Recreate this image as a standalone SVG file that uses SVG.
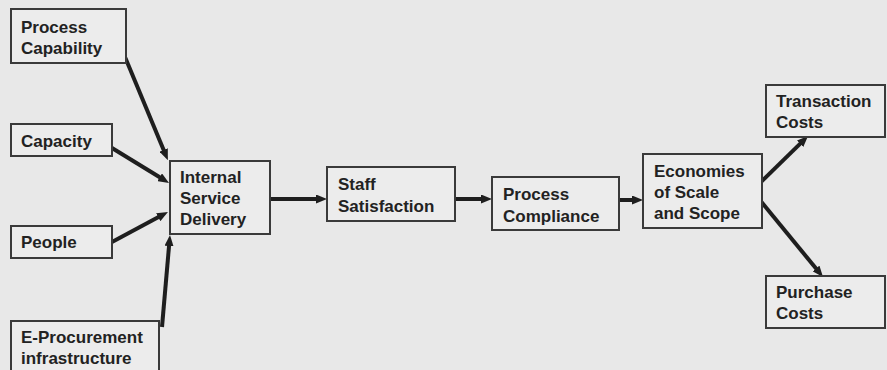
<svg xmlns="http://www.w3.org/2000/svg" width="887" height="370" viewBox="0 0 887 370">
<style>
.box{fill:#ececec;stroke:#3a3a3a;stroke-width:2}
.t{font-family:"Liberation Sans",Arial,sans-serif;font-weight:bold;font-size:17px;fill:#222}
.c{stroke:#1e1e1e;stroke-width:4;fill:none;marker-end:url(#ah)}
</style>
<defs>
<marker id="ah" markerUnits="userSpaceOnUse" markerWidth="11" markerHeight="9" refX="3" refY="4.5" orient="auto">
<path d="M0,0 L11,4.5 L0,9 z" fill="#1e1e1e"/>
</marker>
</defs>
<rect width="887" height="370" fill="#e8e8e8"/>
<g id="connectors">
<line class="c" x1="125" y1="57" x2="164.8" y2="152.8"/>
<line class="c" x1="112" y1="148" x2="162.2" y2="178.8"/>
<line class="c" x1="112" y1="242" x2="160.9" y2="215.8"/>
<line class="c" x1="162" y1="327" x2="169.3" y2="243"/>
<line class="c" x1="270" y1="199" x2="319" y2="199"/>
<line class="c" x1="455" y1="199" x2="484" y2="199"/>
<line class="c" x1="619" y1="200" x2="635" y2="200"/>
<line class="c" x1="759" y1="184" x2="802.3" y2="141.6"/>
<line class="c" x1="759" y1="199" x2="817.9" y2="270.8"/>
</g>
<g id="process-capability">
<rect class="box" x="11" y="9" width="115" height="54"/>
<text class="t" x="21" y="33">Process</text>
<text class="t" x="21" y="54">Capability</text>
</g>
<g id="capacity">
<rect class="box" x="11" y="124" width="101" height="32"/>
<text class="t" x="21" y="147">Capacity</text>
</g>
<g id="people">
<rect class="box" x="11" y="226" width="101" height="32"/>
<text class="t" x="21" y="248">People</text>
</g>
<g id="e-procurement">
<rect class="box" x="11" y="321" width="148" height="60"/>
<text class="t" x="21" y="343">E-Procurement</text>
<text class="t" x="21" y="364">infrastructure</text>
</g>
<g id="internal-service-delivery">
<rect class="box" x="170" y="161" width="100" height="73"/>
<text class="t" x="180" y="183">Internal</text>
<text class="t" x="180" y="204">Service</text>
<text class="t" x="180" y="225">Delivery</text>
</g>
<g id="staff-satisfaction">
<rect class="box" x="327" y="167" width="128" height="54"/>
<text class="t" x="338" y="190">Staff</text>
<text class="t" x="338" y="212">Satisfaction</text>
</g>
<g id="process-compliance">
<rect class="box" x="492" y="177" width="127" height="53"/>
<text class="t" x="503" y="200">Process</text>
<text class="t" x="503" y="222">Compliance</text>
</g>
<g id="economies">
<rect class="box" x="643" y="154" width="119" height="74"/>
<text class="t" x="654" y="177">Economies</text>
<text class="t" x="654" y="198">of Scale</text>
<text class="t" x="654" y="219">and Scope</text>
</g>
<g id="transaction-costs">
<rect class="box" x="766" y="85" width="119" height="52"/>
<text class="t" x="776" y="107">Transaction</text>
<text class="t" x="776" y="128">Costs</text>
</g>
<g id="purchase-costs">
<rect class="box" x="766" y="276" width="119" height="52"/>
<text class="t" x="776" y="298">Purchase</text>
<text class="t" x="776" y="319">Costs</text>
</g>
</svg>
